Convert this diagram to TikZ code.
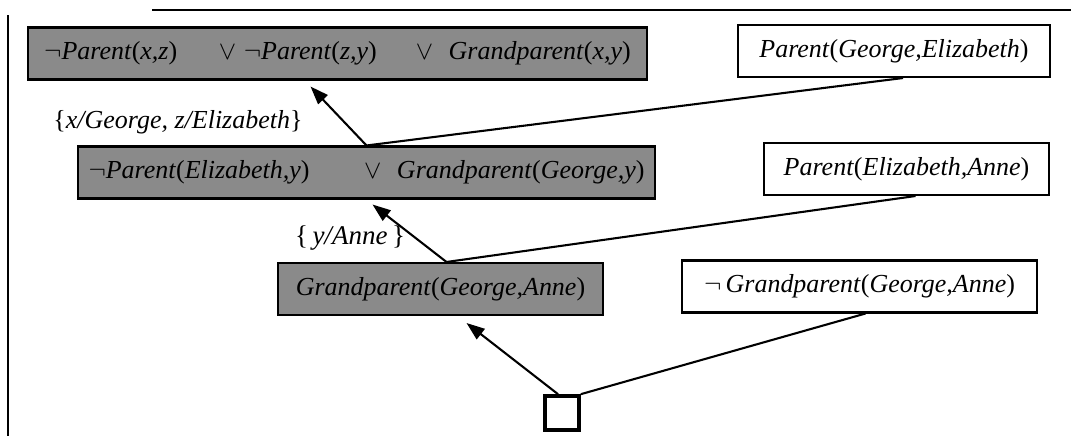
\documentclass[tikz,border=0pt]{standalone}
\usepackage{fontspec}
\setmainfont{Liberation Serif}
\usetikzlibrary{arrows.meta,calc,positioning}

\tikzset{
  clause/.style={draw, thick, minimum height=20pt, inner sep=2pt, font=\itshape},
  given/.style={clause, fill=white},
  derived/.style={clause, fill=black!46},
  resolve/.style={-{Triangle[length=7pt,width=5pt]}, thick},
  link/.style={thick}
}

\begin{document}
\begin{tikzpicture}[x=0.385pt, y=-0.385pt, font=\fontsize{10.4}{12}\selectfont]
  \useasboundingbox (0,0) rectangle (1071,436);
  % page rules from the scan
  \draw[line width=0.8pt] (152,10) -- (1071,10);
  \draw[line width=0.6pt] (8,15) -- (8,436);

  % clauses
  \node[derived, minimum width=238pt] (gpRule) at (337.5,53.5)
    {$\neg$Parent\textup{(}x,z\textup{)}\hspace{1.6em}$\vee$\hspace{0.3em}$\neg$Parent\textup{(}z,y\textup{)}\hspace{1.5em}$\vee$\hspace{0.6em}Grandparent\textup{(}x,y\textup{)}};
  \node[given, minimum width=120pt] (pGE) at (894,51)
    {Parent\textup{(}George,Elizabeth\textup{)}};
  \node[derived, minimum width=222pt] (gpGeorge) at (366.5,172.5)
    {$\neg$Parent\textup{(}Elizabeth,y\textup{)}\hspace{2.1em}$\vee$\hspace{0.6em}Grandparent\textup{(}George,y\textup{)}};
  \node[given, minimum width=110pt] (pEA) at (906.5,169)
    {Parent\textup{(}Elizabeth,Anne\textup{)}};
  \node[derived, minimum width=125pt] (gpGA) at (440.5,289)
    {Grandparent\textup{(}George,Anne\textup{)}};
  \node[given, minimum width=137pt] (notGA) at (859.5,286.5)
    {$\neg$\,Grandparent\textup{(}George,Anne\textup{)}};
  \node[draw, line width=1.5pt, minimum size=13pt, inner sep=0pt] (empty) at (562,413) {};

  % substitutions
  \node[font=\fontsize{10}{12}\selectfont] (subst1) at (178,122) {\{\textit{x/George, z/Elizabeth}\}};
  \node (subst2) at (350,238) {\{\,\textit{y/Anne}\,\}};

  % resolution steps
  \coordinate (joinC) at (gpGeorge.north);
  \coordinate (joinE) at ($(gpGA.north)+(6,0)$);
  \draw[resolve] (joinC) -- ($(gpRule.south)+(-27,6)$);
  \draw[link] (joinC) -- ($(pGE.south)+(9,0)$);
  \draw[resolve] (joinE) -- ($(gpGeorge.south)+(6,5)$);
  \draw[link] (joinE) -- ($(pEA.south)+(9,0)$);
  \draw[resolve] ($(empty.north)+(-4,0)$) -- ($(gpGA.south)+(26,7)$);
  \draw[link] (empty.north east) -- ($(notGA.south)+(6,0)$);
\end{tikzpicture}
\end{document}
